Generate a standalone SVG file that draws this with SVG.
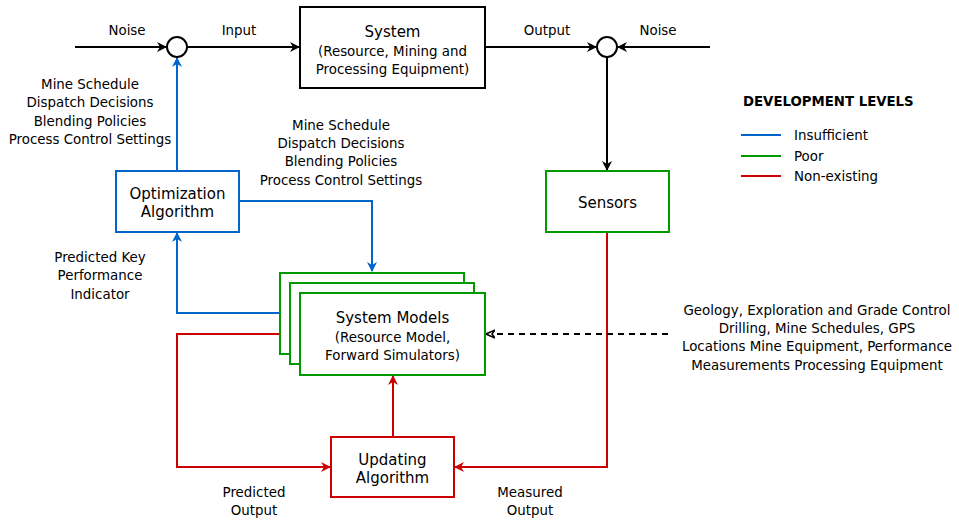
<svg xmlns="http://www.w3.org/2000/svg" width="959" height="520" viewBox="0 0 959 520">
<defs>
<style>
text{font-family:"DejaVu Sans","Liberation Sans",sans-serif;font-size:13.4px;fill:#000;text-anchor:middle}
.big{font-size:15px}
.box{fill:#fff;stroke-width:2}
.k{stroke:#000}
.b{stroke:#0066CC}
.g{stroke:#009900}
.r{stroke:#CC0000}
.ln{fill:none;stroke-width:2}
</style>
<marker id="ak" markerWidth="10" markerHeight="10" refX="9" refY="5" orient="auto" markerUnits="userSpaceOnUse"><path d="M0,0 L10,5 L0,10 L3,5 z" fill="#000"/></marker>
<marker id="ab" markerWidth="10" markerHeight="10" refX="9" refY="5" orient="auto" markerUnits="userSpaceOnUse"><path d="M0,0 L10,5 L0,10 L3,5 z" fill="#0066CC"/></marker>
<marker id="ar" markerWidth="10" markerHeight="10" refX="9" refY="5" orient="auto" markerUnits="userSpaceOnUse"><path d="M0,0 L10,5 L0,10 L3,5 z" fill="#CC0000"/></marker>
<marker id="ad" markerWidth="10" markerHeight="10" refX="9" refY="5" orient="auto" markerUnits="userSpaceOnUse"><path d="M0,1 L9,5 L0,9 L3,5 z" fill="#fff" stroke="#000" stroke-width="1.5"/></marker>
</defs>

<g id="connectors">
<path class="ln k" d="M75,47 H166" marker-end="url(#ak)"/>
<path class="ln k" d="M187,47 H299" marker-end="url(#ak)"/>
<path class="ln k" d="M485,47 H596" marker-end="url(#ak)"/>
<path class="ln k" d="M710,47 H618" marker-end="url(#ak)"/>
<path class="ln k" d="M607,57 V170" marker-end="url(#ak)"/>
<path class="ln b" d="M177,171 V58" marker-end="url(#ab)"/>
<path class="ln b" d="M239,201 H372 V271" marker-end="url(#ab)"/>
<path class="ln b" d="M280,313 H177 V233" marker-end="url(#ab)"/>
<path class="ln r" d="M280,334 H177 V467 H330" marker-end="url(#ar)"/>
<path class="ln r" d="M393,437 V376" marker-end="url(#ar)"/>
<path class="ln r" d="M607,232 V467 H455" marker-end="url(#ar)"/>
<path class="ln k" d="M668,334 H486" stroke-dasharray="6,5" marker-end="url(#ad)"/>
</g>

<g id="sum1"><circle cx="177" cy="47" r="10" fill="#fff" stroke="#000" stroke-width="2"/></g>
<g id="sum2"><circle cx="607" cy="47" r="10" fill="#fff" stroke="#000" stroke-width="2"/></g>

<g id="system">
<rect class="box k" x="300" y="7" width="185" height="81"/>
<text x="392.5" y="37" class="big">System</text>
<text x="392.5" y="56">(Resource, Mining and</text>
<text x="392.5" y="74">Processing Equipment)</text>
</g>

<g id="optimization">
<rect class="box b" x="116" y="171" width="123" height="61"/>
<text x="177.5" y="199" class="big">Optimization</text>
<text x="177.5" y="217" class="big">Algorithm</text>
</g>

<g id="sensors">
<rect class="box g" x="546" y="171" width="123" height="61"/>
<text x="607.5" y="208" class="big">Sensors</text>
</g>

<g id="system-models">
<rect class="box g" x="280" y="273" width="184" height="81"/>
<rect class="box g" x="290" y="283" width="184" height="81"/>
<rect class="box g" x="300" y="293" width="185" height="82"/>
<text x="392.5" y="323" class="big">System Models</text>
<text x="392.5" y="342">(Resource Model,</text>
<text x="392.5" y="360">Forward Simulators)</text>
</g>

<g id="updating">
<rect class="box r" x="331" y="437" width="123" height="60"/>
<text x="392.5" y="465" class="big">Updating</text>
<text x="392.5" y="483" class="big">Algorithm</text>
</g>

<g id="labels">
<text x="127" y="35">Noise</text>
<text x="239" y="35">Input</text>
<text x="547" y="35">Output</text>
<text x="658" y="35">Noise</text>
<text x="90" y="89">Mine Schedule</text>
<text x="90" y="107">Dispatch Decisions</text>
<text x="90" y="126">Blending Policies</text>
<text x="90" y="144">Process Control Settings</text>
<text x="341" y="130">Mine Schedule</text>
<text x="341" y="148">Dispatch Decisions</text>
<text x="341" y="166">Blending Policies</text>
<text x="341" y="185">Process Control Settings</text>
<text x="100" y="262">Predicted Key</text>
<text x="100" y="280">Performance</text>
<text x="100" y="299">Indicator</text>
<text x="254" y="497">Predicted</text>
<text x="254" y="515">Output</text>
<text x="530" y="497">Measured</text>
<text x="530" y="515">Output</text>
<text x="817" y="315">Geology, Exploration and Grade Control</text>
<text x="817" y="333">Drilling, Mine Schedules, GPS</text>
<text x="817" y="351">Locations Mine Equipment, Performance</text>
<text x="817" y="370">Measurements Processing Equipment</text>
</g>

<g id="legend">
<text x="743" y="106" style="text-anchor:start;font-weight:bold;font-size:13.3px">DEVELOPMENT LEVELS</text>
<line x1="741" y1="135" x2="781" y2="135" stroke="#0066CC" stroke-width="2"/>
<line x1="741" y1="156" x2="781" y2="156" stroke="#009900" stroke-width="2"/>
<line x1="741" y1="176" x2="781" y2="176" stroke="#CC0000" stroke-width="2"/>
<text x="794" y="140" style="text-anchor:start">Insufficient</text>
<text x="794" y="161" style="text-anchor:start">Poor</text>
<text x="794" y="181" style="text-anchor:start">Non-existing</text>
</g>
</svg>
